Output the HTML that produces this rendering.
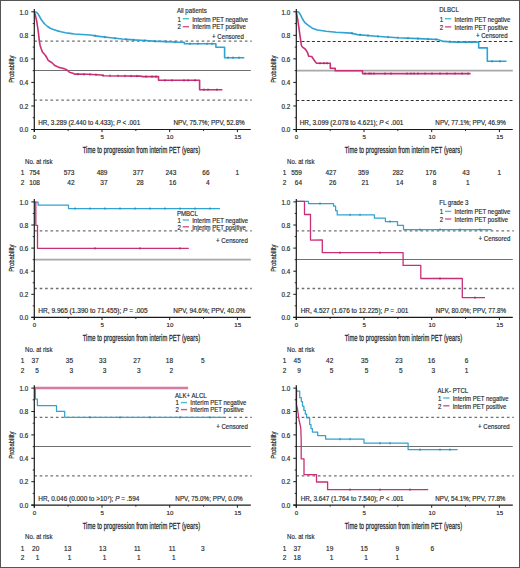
<!DOCTYPE html>
<html><head><meta charset="utf-8"><title>KM curves</title>
<style>
html,body{margin:0;padding:0;background:#fff;}
body{width:520px;height:568px;overflow:hidden;position:relative;font-family:"Liberation Sans", sans-serif;}
.frame{position:absolute;left:0;top:0;width:518px;height:566px;border:1px solid #555;pointer-events:none;}
</style></head><body>
<svg width="520" height="568" viewBox="0 0 520 568" style="position:absolute;left:0;top:0" font-family='"Liberation Sans", sans-serif'>
<rect x="0" y="0" width="520" height="568" fill="#fff"/>
<line x1="34.3" y1="41.22" x2="251.8" y2="41.22" stroke="#6e6e6e" stroke-width="1.3" stroke-dasharray="2.6 2.8"/>
<line x1="34.3" y1="100.08" x2="251.8" y2="100.08" stroke="#6e6e6e" stroke-width="1.3" stroke-dasharray="2.6 2.8"/>
<line x1="34.3" y1="70.5" x2="250.8" y2="70.5" stroke="#707070" stroke-width="1.0" />
<text transform="translate(13.6,69.15) rotate(-90) scale(0.76,1)" font-size="7.7" text-anchor="middle" fill="#2a2a2a" stroke="#2a2a2a" stroke-width="0.24">Probability</text>
<text transform="translate(82.7,153.3) scale(0.7,1)" font-size="8.3" fill="#2a2a2a" stroke="#2a2a2a" stroke-width="0.26" textLength="167.86" lengthAdjust="spacing">Time to progression from interim PET (years)</text>
<text x="38.25" y="125.1" font-size="6.3" text-anchor="start" font-weight="normal" fill="#2a2a2a" stroke="#2a2a2a" stroke-width="0.16" textLength="101.9" lengthAdjust="spacingAndGlyphs">HR, 3.289 (2.440 to 4.433); <tspan font-style="italic">P</tspan> &lt; .001</text>
<text x="173.55" y="125.1" font-size="6.3" text-anchor="start" font-weight="normal" fill="#2a2a2a" stroke="#2a2a2a" stroke-width="0.16" textLength="71" lengthAdjust="spacingAndGlyphs">NPV, 75.7%; PPV, 52.8%</text>
<text x="176.9" y="12.7" font-size="6.7" text-anchor="start" font-weight="normal" fill="#2a2a2a" stroke="#2a2a2a" stroke-width="0.16" textLength="29.84" lengthAdjust="spacingAndGlyphs">All patients</text>
<text x="177.4" y="21.5" font-size="6.7" text-anchor="start" font-weight="normal" fill="#2a2a2a" stroke="#2a2a2a" stroke-width="0.16" textLength="3.39" lengthAdjust="spacingAndGlyphs">1</text>
<text x="177.4" y="29.4" font-size="6.7" text-anchor="start" font-weight="normal" fill="#2a2a2a" stroke="#2a2a2a" stroke-width="0.16" textLength="3.39" lengthAdjust="spacingAndGlyphs">2</text>
<line x1="182.7" y1="18.7" x2="189" y2="18.7" stroke="#52bcd0" stroke-width="1.4" />
<line x1="182.7" y1="26.7" x2="189" y2="26.7" stroke="#d2568a" stroke-width="1.4" />
<text x="192.2" y="21.5" font-size="6.7" text-anchor="start" font-weight="normal" fill="#2a2a2a" stroke="#2a2a2a" stroke-width="0.16" textLength="55.92" lengthAdjust="spacingAndGlyphs">Interim PET negative</text>
<text x="192.2" y="29.4" font-size="6.7" text-anchor="start" font-weight="normal" fill="#2a2a2a" stroke="#2a2a2a" stroke-width="0.16" textLength="53.58" lengthAdjust="spacingAndGlyphs">Interim PET positive</text>
<text x="212.09" y="38.6" font-size="6.7" text-anchor="start" font-weight="normal" fill="#2a2a2a" stroke="#2a2a2a" stroke-width="0.16" textLength="31.71" lengthAdjust="spacingAndGlyphs">+ Censored</text>
<text x="25" y="163.8" font-size="6.9" text-anchor="start" font-weight="normal" fill="#2a2a2a" stroke="#2a2a2a" stroke-width="0.16" textLength="27.46" lengthAdjust="spacingAndGlyphs">No. at risk</text>
<text x="22.5" y="174.9" font-size="6.4" text-anchor="middle" font-weight="normal" fill="#2a2a2a" stroke="#2a2a2a" stroke-width="0.16" >1</text>
<text x="22.5" y="184.6" font-size="6.4" text-anchor="middle" font-weight="normal" fill="#2a2a2a" stroke="#2a2a2a" stroke-width="0.16" >2</text>
<text x="40" y="174.9" font-size="6.5" text-anchor="end" font-weight="normal" fill="#2a2a2a" stroke="#2a2a2a" stroke-width="0.16" >754</text>
<text x="74.5" y="174.9" font-size="6.5" text-anchor="end" font-weight="normal" fill="#2a2a2a" stroke="#2a2a2a" stroke-width="0.16" >573</text>
<text x="107.5" y="174.9" font-size="6.5" text-anchor="end" font-weight="normal" fill="#2a2a2a" stroke="#2a2a2a" stroke-width="0.16" >489</text>
<text x="143.7" y="174.9" font-size="6.5" text-anchor="end" font-weight="normal" fill="#2a2a2a" stroke="#2a2a2a" stroke-width="0.16" >377</text>
<text x="176.3" y="174.9" font-size="6.5" text-anchor="end" font-weight="normal" fill="#2a2a2a" stroke="#2a2a2a" stroke-width="0.16" >243</text>
<text x="209.5" y="174.9" font-size="6.5" text-anchor="end" font-weight="normal" fill="#2a2a2a" stroke="#2a2a2a" stroke-width="0.16" >66</text>
<text x="239.2" y="174.9" font-size="6.5" text-anchor="end" font-weight="normal" fill="#2a2a2a" stroke="#2a2a2a" stroke-width="0.16" >1</text>
<text x="40" y="184.6" font-size="6.5" text-anchor="end" font-weight="normal" fill="#2a2a2a" stroke="#2a2a2a" stroke-width="0.16" >108</text>
<text x="74.5" y="184.6" font-size="6.5" text-anchor="end" font-weight="normal" fill="#2a2a2a" stroke="#2a2a2a" stroke-width="0.16" >42</text>
<text x="107.5" y="184.6" font-size="6.5" text-anchor="end" font-weight="normal" fill="#2a2a2a" stroke="#2a2a2a" stroke-width="0.16" >37</text>
<text x="143.7" y="184.6" font-size="6.5" text-anchor="end" font-weight="normal" fill="#2a2a2a" stroke="#2a2a2a" stroke-width="0.16" >28</text>
<text x="176.3" y="184.6" font-size="6.5" text-anchor="end" font-weight="normal" fill="#2a2a2a" stroke="#2a2a2a" stroke-width="0.16" >16</text>
<text x="209.5" y="184.6" font-size="6.5" text-anchor="end" font-weight="normal" fill="#2a2a2a" stroke="#2a2a2a" stroke-width="0.16" >4</text>
<polyline points="34.4,11.8 36.5,12.2 38.2,14.2 39.8,17 41.4,19.8 43.3,22.4 45.2,24.5 47.6,26.5 50.3,28.2 53.4,29.5 56.6,30.6 61,31.7 65.5,32.7 70,33.4 74.4,34 82,34.5 90,35 99.2,36.4 110.8,37.8 122.4,39 134,39.9 145,40.5 153,41.1 166,41.6 179.6,42.2 184.3,42.3 184.3,43.8 215.9,43.8 215.9,47.3 224.6,47.3 224.6,57.7 244.3,57.7" fill="none" stroke="#2fa3d2" stroke-width="1.6" stroke-linejoin="round" />
<path d="M95 34.56v2.4 M105 35.9v2.4 M115 37.03v2.4 M126 38.08v2.4 M134 38.7v2.4 M145 39.3v2.4 M155 39.98v2.4 M166 40.4v2.4 M175 40.8v2.4 M190 42.6v2.4 M198 42.6v2.4 M207 42.6v2.4 M212 42.6v2.4 M228 56.5v2.4 M233 56.5v2.4 M239 56.5v2.4" stroke="#1f7aa0" stroke-width="0.8" fill="none"/>
<polyline points="34.4,12.5 35.2,14.5 36.3,19.4 37,23 37.6,27 38.3,32 38.9,37.2 39.3,40.9 40.2,45.7 41.3,49 42.4,51.9 44,53.8 45.5,55.5 47,58 48.2,60.3 50,61.5 51.7,62.5 53,63.8 54.4,65.2 56.5,66.3 58.8,67.4 61.5,68 64.1,68.6 66,69.5 67.6,70.5 69.4,72.3 72.9,73.2 74.7,74.1 87.7,74.3 101.6,75 103.9,75.7 140.8,76.1 142,76.6 158.5,76.6 158.5,80.3 199.6,80.3 199.6,89.7 222.4,89.7" fill="none" stroke="#c92f77" stroke-width="1.6" stroke-linejoin="round" />
<path d="M78 72.95v2.4 M84 73.04v2.4 M90 73.22v2.4 M96 73.52v2.4 M103 74.23v2.4 M110 74.57v2.4 M118 74.65v2.4 M125 74.73v2.4 M131 74.79v2.4 M137 74.86v2.4 M146 75.4v2.4 M152 75.4v2.4 M156 75.4v2.4 M165 79.1v2.4 M172 79.1v2.4 M184 79.1v2.4 M188 79.1v2.4 M195 79.1v2.4 M204 88.5v2.4 M208 88.5v2.4 M217 88.5v2.4" stroke="#8a1f50" stroke-width="0.8" fill="none"/>
<line x1="34.3" y1="9" x2="34.3" y2="132.1" stroke="#1a1a1a" stroke-width="1.2" />
<line x1="31.3" y1="129.5" x2="250.8" y2="129.5" stroke="#1a1a1a" stroke-width="1.2" />
<line x1="31.3" y1="129.5" x2="34.3" y2="129.5" stroke="#1a1a1a" stroke-width="1.0" />
<text x="28.3" y="132.2" font-size="6.3" text-anchor="end" font-weight="normal" fill="#2a2a2a" stroke="#2a2a2a" stroke-width="0.16" >0.0</text>
<line x1="31.3" y1="105.96" x2="34.3" y2="105.96" stroke="#1a1a1a" stroke-width="1.0" />
<text x="28.3" y="108.66" font-size="6.3" text-anchor="end" font-weight="normal" fill="#2a2a2a" stroke="#2a2a2a" stroke-width="0.16" >0.2</text>
<line x1="31.3" y1="82.42" x2="34.3" y2="82.42" stroke="#1a1a1a" stroke-width="1.0" />
<text x="28.3" y="85.12" font-size="6.3" text-anchor="end" font-weight="normal" fill="#2a2a2a" stroke="#2a2a2a" stroke-width="0.16" >0.4</text>
<line x1="31.3" y1="58.88" x2="34.3" y2="58.88" stroke="#1a1a1a" stroke-width="1.0" />
<text x="28.3" y="61.58" font-size="6.3" text-anchor="end" font-weight="normal" fill="#2a2a2a" stroke="#2a2a2a" stroke-width="0.16" >0.6</text>
<line x1="31.3" y1="35.34" x2="34.3" y2="35.34" stroke="#1a1a1a" stroke-width="1.0" />
<text x="28.3" y="38.04" font-size="6.3" text-anchor="end" font-weight="normal" fill="#2a2a2a" stroke="#2a2a2a" stroke-width="0.16" >0.8</text>
<line x1="31.3" y1="11.8" x2="34.3" y2="11.8" stroke="#1a1a1a" stroke-width="1.0" />
<text x="28.3" y="14.5" font-size="6.3" text-anchor="end" font-weight="normal" fill="#2a2a2a" stroke="#2a2a2a" stroke-width="0.16" >1.0</text>
<line x1="32.7" y1="117.73" x2="34.3" y2="117.73" stroke="#1a1a1a" stroke-width="0.9" />
<line x1="32.7" y1="94.19" x2="34.3" y2="94.19" stroke="#1a1a1a" stroke-width="0.9" />
<line x1="32.7" y1="70.65" x2="34.3" y2="70.65" stroke="#1a1a1a" stroke-width="0.9" />
<line x1="32.7" y1="47.11" x2="34.3" y2="47.11" stroke="#1a1a1a" stroke-width="0.9" />
<line x1="32.7" y1="23.57" x2="34.3" y2="23.57" stroke="#1a1a1a" stroke-width="0.9" />
<line x1="34.3" y1="129.5" x2="34.3" y2="132.1" stroke="#1a1a1a" stroke-width="1.0" />
<text x="34.6" y="138.9" font-size="6.2" text-anchor="middle" font-weight="normal" fill="#2a2a2a" stroke="#2a2a2a" stroke-width="0.16" >0</text>
<line x1="102" y1="129.5" x2="102" y2="132.1" stroke="#1a1a1a" stroke-width="1.0" />
<text x="102.3" y="138.9" font-size="6.2" text-anchor="middle" font-weight="normal" fill="#2a2a2a" stroke="#2a2a2a" stroke-width="0.16" >5</text>
<line x1="169.7" y1="129.5" x2="169.7" y2="132.1" stroke="#1a1a1a" stroke-width="1.0" />
<text x="170" y="138.9" font-size="6.2" text-anchor="middle" font-weight="normal" fill="#2a2a2a" stroke="#2a2a2a" stroke-width="0.16" >10</text>
<line x1="237.4" y1="129.5" x2="237.4" y2="132.1" stroke="#1a1a1a" stroke-width="1.0" />
<text x="237.7" y="138.9" font-size="6.2" text-anchor="middle" font-weight="normal" fill="#2a2a2a" stroke="#2a2a2a" stroke-width="0.16" >15</text>
<line x1="68.15" y1="129.5" x2="68.15" y2="131.1" stroke="#1a1a1a" stroke-width="0.9" />
<line x1="135.85" y1="129.5" x2="135.85" y2="131.1" stroke="#1a1a1a" stroke-width="0.9" />
<line x1="203.55" y1="129.5" x2="203.55" y2="131.1" stroke="#1a1a1a" stroke-width="0.9" />
<line x1="296.3" y1="41.5" x2="513.8" y2="41.5" stroke="#333" stroke-width="1.0" stroke-dasharray="3 2.2"/>
<line x1="296.3" y1="100.5" x2="513.8" y2="100.5" stroke="#333" stroke-width="1.0" stroke-dasharray="3 2.2"/>
<line x1="296.3" y1="70.65" x2="512.8" y2="70.65" stroke="#a8a8a8" stroke-width="1.6" />
<text transform="translate(275.6,69.15) rotate(-90) scale(0.76,1)" font-size="7.7" text-anchor="middle" fill="#2a2a2a" stroke="#2a2a2a" stroke-width="0.24">Probability</text>
<text transform="translate(344.7,153.3) scale(0.7,1)" font-size="8.3" fill="#2a2a2a" stroke="#2a2a2a" stroke-width="0.26" textLength="167.86" lengthAdjust="spacing">Time to progression from interim PET (years)</text>
<text x="299.65" y="125.1" font-size="6.3" text-anchor="start" font-weight="normal" fill="#2a2a2a" stroke="#2a2a2a" stroke-width="0.16" textLength="103.7" lengthAdjust="spacingAndGlyphs">HR, 3.099 (2.078 to 4.621); <tspan font-style="italic">P</tspan> &lt; .001</text>
<text x="435.35" y="125.1" font-size="6.3" text-anchor="start" font-weight="normal" fill="#2a2a2a" stroke="#2a2a2a" stroke-width="0.16" textLength="70.5" lengthAdjust="spacingAndGlyphs">NPV, 77.1%; PPV, 46.9%</text>
<text x="439.2" y="12" font-size="6.7" text-anchor="start" font-weight="normal" fill="#2a2a2a" stroke="#2a2a2a" stroke-width="0.16" textLength="19.66" lengthAdjust="spacingAndGlyphs">DLBCL</text>
<text x="439.7" y="21.5" font-size="6.7" text-anchor="start" font-weight="normal" fill="#2a2a2a" stroke="#2a2a2a" stroke-width="0.16" textLength="3.39" lengthAdjust="spacingAndGlyphs">1</text>
<text x="439.7" y="29.6" font-size="6.7" text-anchor="start" font-weight="normal" fill="#2a2a2a" stroke="#2a2a2a" stroke-width="0.16" textLength="3.39" lengthAdjust="spacingAndGlyphs">2</text>
<line x1="445" y1="18.7" x2="451.3" y2="18.7" stroke="#52bcd0" stroke-width="1.4" />
<line x1="445" y1="26.9" x2="451.3" y2="26.9" stroke="#d2568a" stroke-width="1.4" />
<text x="454.5" y="21.5" font-size="6.7" text-anchor="start" font-weight="normal" fill="#2a2a2a" stroke="#2a2a2a" stroke-width="0.16" textLength="55.92" lengthAdjust="spacingAndGlyphs">Interim PET negative</text>
<text x="454.5" y="29.6" font-size="6.7" text-anchor="start" font-weight="normal" fill="#2a2a2a" stroke="#2a2a2a" stroke-width="0.16" textLength="53.58" lengthAdjust="spacingAndGlyphs">Interim PET positive</text>
<text x="475.89" y="38" font-size="6.7" text-anchor="start" font-weight="normal" fill="#2a2a2a" stroke="#2a2a2a" stroke-width="0.16" textLength="31.71" lengthAdjust="spacingAndGlyphs">+ Censored</text>
<text x="287" y="163.8" font-size="6.9" text-anchor="start" font-weight="normal" fill="#2a2a2a" stroke="#2a2a2a" stroke-width="0.16" textLength="27.46" lengthAdjust="spacingAndGlyphs">No. at risk</text>
<text x="284.5" y="174.9" font-size="6.4" text-anchor="middle" font-weight="normal" fill="#2a2a2a" stroke="#2a2a2a" stroke-width="0.16" >1</text>
<text x="284.5" y="184.6" font-size="6.4" text-anchor="middle" font-weight="normal" fill="#2a2a2a" stroke="#2a2a2a" stroke-width="0.16" >2</text>
<text x="302" y="174.9" font-size="6.5" text-anchor="end" font-weight="normal" fill="#2a2a2a" stroke="#2a2a2a" stroke-width="0.16" >559</text>
<text x="336.3" y="174.9" font-size="6.5" text-anchor="end" font-weight="normal" fill="#2a2a2a" stroke="#2a2a2a" stroke-width="0.16" >427</text>
<text x="368.8" y="174.9" font-size="6.5" text-anchor="end" font-weight="normal" fill="#2a2a2a" stroke="#2a2a2a" stroke-width="0.16" >359</text>
<text x="403.3" y="174.9" font-size="6.5" text-anchor="end" font-weight="normal" fill="#2a2a2a" stroke="#2a2a2a" stroke-width="0.16" >282</text>
<text x="436.3" y="174.9" font-size="6.5" text-anchor="end" font-weight="normal" fill="#2a2a2a" stroke="#2a2a2a" stroke-width="0.16" >176</text>
<text x="469.5" y="174.9" font-size="6.5" text-anchor="end" font-weight="normal" fill="#2a2a2a" stroke="#2a2a2a" stroke-width="0.16" >43</text>
<text x="501.2" y="174.9" font-size="6.5" text-anchor="end" font-weight="normal" fill="#2a2a2a" stroke="#2a2a2a" stroke-width="0.16" >1</text>
<text x="302" y="184.6" font-size="6.5" text-anchor="end" font-weight="normal" fill="#2a2a2a" stroke="#2a2a2a" stroke-width="0.16" >64</text>
<text x="336.3" y="184.6" font-size="6.5" text-anchor="end" font-weight="normal" fill="#2a2a2a" stroke="#2a2a2a" stroke-width="0.16" >26</text>
<text x="368.8" y="184.6" font-size="6.5" text-anchor="end" font-weight="normal" fill="#2a2a2a" stroke="#2a2a2a" stroke-width="0.16" >21</text>
<text x="403.3" y="184.6" font-size="6.5" text-anchor="end" font-weight="normal" fill="#2a2a2a" stroke="#2a2a2a" stroke-width="0.16" >14</text>
<text x="436.3" y="184.6" font-size="6.5" text-anchor="end" font-weight="normal" fill="#2a2a2a" stroke="#2a2a2a" stroke-width="0.16" >8</text>
<text x="469.5" y="184.6" font-size="6.5" text-anchor="end" font-weight="normal" fill="#2a2a2a" stroke="#2a2a2a" stroke-width="0.16" >1</text>
<polyline points="296.4,11.6 298.5,12.1 299.8,13.6 300.9,15.6 302.1,18.1 303.4,20.5 305.2,22.9 308.3,25.4 312.3,28.2 317.5,30 326,31.3 336,32.2 351.4,33.1 357.5,34.6 376,36.2 397.5,37.7 419,38.6 437.5,39.5 443.7,41.4 456,42.1 478.7,42.1 478.7,47.9 487.3,47.9 487.3,61.3 506.5,61.3" fill="none" stroke="#2fa3d2" stroke-width="1.6" stroke-linejoin="round" />
<path d="M352 32.05v2.4 M360 33.62v2.4 M368 34.31v2.4 M378 35.14v2.4 M388 35.84v2.4 M398 36.52v2.4 M408 36.94v2.4 M418 37.36v2.4 M428 37.84v2.4 M436 38.23v2.4 M450 40.56v2.4 M458 40.9v2.4 M466 40.9v2.4 M472 40.9v2.4 M492 60.1v2.4 M500 60.1v2.4" stroke="#1f7aa0" stroke-width="0.8" fill="none"/>
<polyline points="296.4,12.8 297,15.5 297.7,19.4 298.3,23.5 299,28.3 299.6,32.8 300.2,37.2 300.8,41.2 301.3,45 302,46.5 302.8,47.3 304,48.2 305.1,49 306.2,50.5 307.3,52.1 308,54 308.6,56.1 310,56.3 311.7,56.5 313,58.5 314.4,60.5 315.5,62 316.6,63.2 330.3,63.2 330.3,68.2 335.2,68.2 335.2,70.7 362.5,70.7 362.5,73.6 470.6,73.6" fill="none" stroke="#c92f77" stroke-width="1.6" stroke-linejoin="round" />
<path d="M320 62v2.4 M324 62v2.4 M327 62v2.4 M365 72.4v2.4 M369 72.4v2.4 M371 72.4v2.4 M374 72.4v2.4 M385 72.4v2.4 M391 72.4v2.4 M407 72.4v2.4 M411 72.4v2.4 M414 72.4v2.4 M418 72.4v2.4 M425 72.4v2.4 M432 72.4v2.4 M440 72.4v2.4 M447 72.4v2.4 M455 72.4v2.4 M462 72.4v2.4 M468 72.4v2.4" stroke="#8a1f50" stroke-width="0.8" fill="none"/>
<line x1="296.3" y1="9" x2="296.3" y2="132.1" stroke="#1a1a1a" stroke-width="1.2" />
<line x1="293.3" y1="129.5" x2="512.8" y2="129.5" stroke="#1a1a1a" stroke-width="1.2" />
<line x1="293.3" y1="129.5" x2="296.3" y2="129.5" stroke="#1a1a1a" stroke-width="1.0" />
<text x="290.3" y="132.2" font-size="6.3" text-anchor="end" font-weight="normal" fill="#2a2a2a" stroke="#2a2a2a" stroke-width="0.16" >0.0</text>
<line x1="293.3" y1="105.96" x2="296.3" y2="105.96" stroke="#1a1a1a" stroke-width="1.0" />
<text x="290.3" y="108.66" font-size="6.3" text-anchor="end" font-weight="normal" fill="#2a2a2a" stroke="#2a2a2a" stroke-width="0.16" >0.2</text>
<line x1="293.3" y1="82.42" x2="296.3" y2="82.42" stroke="#1a1a1a" stroke-width="1.0" />
<text x="290.3" y="85.12" font-size="6.3" text-anchor="end" font-weight="normal" fill="#2a2a2a" stroke="#2a2a2a" stroke-width="0.16" >0.4</text>
<line x1="293.3" y1="58.88" x2="296.3" y2="58.88" stroke="#1a1a1a" stroke-width="1.0" />
<text x="290.3" y="61.58" font-size="6.3" text-anchor="end" font-weight="normal" fill="#2a2a2a" stroke="#2a2a2a" stroke-width="0.16" >0.6</text>
<line x1="293.3" y1="35.34" x2="296.3" y2="35.34" stroke="#1a1a1a" stroke-width="1.0" />
<text x="290.3" y="38.04" font-size="6.3" text-anchor="end" font-weight="normal" fill="#2a2a2a" stroke="#2a2a2a" stroke-width="0.16" >0.8</text>
<line x1="293.3" y1="11.8" x2="296.3" y2="11.8" stroke="#1a1a1a" stroke-width="1.0" />
<text x="290.3" y="14.5" font-size="6.3" text-anchor="end" font-weight="normal" fill="#2a2a2a" stroke="#2a2a2a" stroke-width="0.16" >1.0</text>
<line x1="294.7" y1="117.73" x2="296.3" y2="117.73" stroke="#1a1a1a" stroke-width="0.9" />
<line x1="294.7" y1="94.19" x2="296.3" y2="94.19" stroke="#1a1a1a" stroke-width="0.9" />
<line x1="294.7" y1="70.65" x2="296.3" y2="70.65" stroke="#1a1a1a" stroke-width="0.9" />
<line x1="294.7" y1="47.11" x2="296.3" y2="47.11" stroke="#1a1a1a" stroke-width="0.9" />
<line x1="294.7" y1="23.57" x2="296.3" y2="23.57" stroke="#1a1a1a" stroke-width="0.9" />
<line x1="296.3" y1="129.5" x2="296.3" y2="132.1" stroke="#1a1a1a" stroke-width="1.0" />
<text x="296.6" y="138.9" font-size="6.2" text-anchor="middle" font-weight="normal" fill="#2a2a2a" stroke="#2a2a2a" stroke-width="0.16" >0</text>
<line x1="364" y1="129.5" x2="364" y2="132.1" stroke="#1a1a1a" stroke-width="1.0" />
<text x="364.3" y="138.9" font-size="6.2" text-anchor="middle" font-weight="normal" fill="#2a2a2a" stroke="#2a2a2a" stroke-width="0.16" >5</text>
<line x1="431.7" y1="129.5" x2="431.7" y2="132.1" stroke="#1a1a1a" stroke-width="1.0" />
<text x="432" y="138.9" font-size="6.2" text-anchor="middle" font-weight="normal" fill="#2a2a2a" stroke="#2a2a2a" stroke-width="0.16" >10</text>
<line x1="499.4" y1="129.5" x2="499.4" y2="132.1" stroke="#1a1a1a" stroke-width="1.0" />
<text x="499.7" y="138.9" font-size="6.2" text-anchor="middle" font-weight="normal" fill="#2a2a2a" stroke="#2a2a2a" stroke-width="0.16" >15</text>
<line x1="330.15" y1="129.5" x2="330.15" y2="131.1" stroke="#1a1a1a" stroke-width="0.9" />
<line x1="397.85" y1="129.5" x2="397.85" y2="131.1" stroke="#1a1a1a" stroke-width="0.9" />
<line x1="465.55" y1="129.5" x2="465.55" y2="131.1" stroke="#1a1a1a" stroke-width="0.9" />
<line x1="34.3" y1="230.78" x2="251.8" y2="230.78" stroke="#6e6e6e" stroke-width="1.3" stroke-dasharray="2.6 2.8"/>
<line x1="34.3" y1="288.52" x2="251.8" y2="288.52" stroke="#6e6e6e" stroke-width="1.3" stroke-dasharray="2.6 2.8"/>
<line x1="34.3" y1="259.65" x2="250.8" y2="259.65" stroke="#a8a8a8" stroke-width="1.6" />
<text transform="translate(13.6,258.15) rotate(-90) scale(0.76,1)" font-size="7.7" text-anchor="middle" fill="#2a2a2a" stroke="#2a2a2a" stroke-width="0.24">Probability</text>
<text transform="translate(82.7,341.2) scale(0.7,1)" font-size="8.3" fill="#2a2a2a" stroke="#2a2a2a" stroke-width="0.26" textLength="167.86" lengthAdjust="spacing">Time to progression from interim PET (years)</text>
<text x="38.35" y="313" font-size="6.3" text-anchor="start" font-weight="normal" fill="#2a2a2a" stroke="#2a2a2a" stroke-width="0.16" textLength="109.3" lengthAdjust="spacingAndGlyphs">HR, 9.965 (1.390 to 71.455); <tspan font-style="italic">P</tspan> = .005</text>
<text x="173.25" y="313" font-size="6.3" text-anchor="start" font-weight="normal" fill="#2a2a2a" stroke="#2a2a2a" stroke-width="0.16" textLength="72" lengthAdjust="spacingAndGlyphs">NPV, 94.6%; PPV, 40.0%</text>
<text x="176.9" y="215.9" font-size="6.7" text-anchor="start" font-weight="normal" fill="#2a2a2a" stroke="#2a2a2a" stroke-width="0.16" textLength="21.02" lengthAdjust="spacingAndGlyphs">PMBCL</text>
<text x="177.4" y="222.8" font-size="6.7" text-anchor="start" font-weight="normal" fill="#2a2a2a" stroke="#2a2a2a" stroke-width="0.16" textLength="3.39" lengthAdjust="spacingAndGlyphs">1</text>
<text x="177.4" y="229.5" font-size="6.7" text-anchor="start" font-weight="normal" fill="#2a2a2a" stroke="#2a2a2a" stroke-width="0.16" textLength="3.39" lengthAdjust="spacingAndGlyphs">2</text>
<line x1="182.7" y1="220" x2="189" y2="220" stroke="#52bcd0" stroke-width="1.4" />
<line x1="182.7" y1="226.8" x2="189" y2="226.8" stroke="#d2568a" stroke-width="1.4" />
<text x="192.2" y="222.8" font-size="6.7" text-anchor="start" font-weight="normal" fill="#2a2a2a" stroke="#2a2a2a" stroke-width="0.16" textLength="55.92" lengthAdjust="spacingAndGlyphs">Interim PET negative</text>
<text x="192.2" y="229.5" font-size="6.7" text-anchor="start" font-weight="normal" fill="#2a2a2a" stroke="#2a2a2a" stroke-width="0.16" textLength="53.58" lengthAdjust="spacingAndGlyphs">Interim PET positive</text>
<text x="216.09" y="242.7" font-size="6.7" text-anchor="start" font-weight="normal" fill="#2a2a2a" stroke="#2a2a2a" stroke-width="0.16" textLength="31.71" lengthAdjust="spacingAndGlyphs">+ Censored</text>
<text x="25" y="351.7" font-size="6.9" text-anchor="start" font-weight="normal" fill="#2a2a2a" stroke="#2a2a2a" stroke-width="0.16" textLength="27.46" lengthAdjust="spacingAndGlyphs">No. at risk</text>
<text x="22.5" y="362.8" font-size="6.4" text-anchor="middle" font-weight="normal" fill="#2a2a2a" stroke="#2a2a2a" stroke-width="0.16" >1</text>
<text x="22.5" y="372.5" font-size="6.4" text-anchor="middle" font-weight="normal" fill="#2a2a2a" stroke="#2a2a2a" stroke-width="0.16" >2</text>
<text x="38.8" y="362.8" font-size="6.5" text-anchor="end" font-weight="normal" fill="#2a2a2a" stroke="#2a2a2a" stroke-width="0.16" >37</text>
<text x="73" y="362.8" font-size="6.5" text-anchor="end" font-weight="normal" fill="#2a2a2a" stroke="#2a2a2a" stroke-width="0.16" >35</text>
<text x="106.3" y="362.8" font-size="6.5" text-anchor="end" font-weight="normal" fill="#2a2a2a" stroke="#2a2a2a" stroke-width="0.16" >33</text>
<text x="140.5" y="362.8" font-size="6.5" text-anchor="end" font-weight="normal" fill="#2a2a2a" stroke="#2a2a2a" stroke-width="0.16" >27</text>
<text x="173" y="362.8" font-size="6.5" text-anchor="end" font-weight="normal" fill="#2a2a2a" stroke="#2a2a2a" stroke-width="0.16" >18</text>
<text x="204.5" y="362.8" font-size="6.5" text-anchor="end" font-weight="normal" fill="#2a2a2a" stroke="#2a2a2a" stroke-width="0.16" >5</text>
<text x="38.8" y="372.5" font-size="6.5" text-anchor="end" font-weight="normal" fill="#2a2a2a" stroke="#2a2a2a" stroke-width="0.16" >5</text>
<text x="73" y="372.5" font-size="6.5" text-anchor="end" font-weight="normal" fill="#2a2a2a" stroke="#2a2a2a" stroke-width="0.16" >3</text>
<text x="106.3" y="372.5" font-size="6.5" text-anchor="end" font-weight="normal" fill="#2a2a2a" stroke="#2a2a2a" stroke-width="0.16" >3</text>
<text x="140.5" y="372.5" font-size="6.5" text-anchor="end" font-weight="normal" fill="#2a2a2a" stroke="#2a2a2a" stroke-width="0.16" >3</text>
<text x="173" y="372.5" font-size="6.5" text-anchor="end" font-weight="normal" fill="#2a2a2a" stroke="#2a2a2a" stroke-width="0.16" >2</text>
<polyline points="34.4,202.1 38.1,202.1 38.1,205 68.5,205 68.5,208.5 220,208.5" fill="none" stroke="#2fa3d2" stroke-width="1.25" stroke-linejoin="round" />
<path d="M75 207.3v2.4 M90 207.3v2.4 M105 207.3v2.4 M120 207.3v2.4 M135 207.3v2.4 M150 207.3v2.4 M165 207.3v2.4 M180 207.3v2.4 M195 207.3v2.4 M210 207.3v2.4" stroke="#1f7aa0" stroke-width="0.8" fill="none"/>
<polyline points="34.6,202.1 35.8,202.1 35.8,225.3 37.5,225.3 37.5,248.3 188.8,248.3" fill="none" stroke="#c92f77" stroke-width="1.3" stroke-linejoin="round" />
<path d="M95 247.1v2.4 M140 247.1v2.4 M180 247.1v2.4" stroke="#8a1f50" stroke-width="0.8" fill="none"/>
<line x1="34.3" y1="199.1" x2="34.3" y2="320" stroke="#1a1a1a" stroke-width="1.2" />
<line x1="31.3" y1="317.4" x2="250.8" y2="317.4" stroke="#1a1a1a" stroke-width="1.2" />
<line x1="31.3" y1="317.4" x2="34.3" y2="317.4" stroke="#1a1a1a" stroke-width="1.0" />
<text x="28.3" y="320.1" font-size="6.3" text-anchor="end" font-weight="normal" fill="#2a2a2a" stroke="#2a2a2a" stroke-width="0.16" >0.0</text>
<line x1="31.3" y1="294.3" x2="34.3" y2="294.3" stroke="#1a1a1a" stroke-width="1.0" />
<text x="28.3" y="297" font-size="6.3" text-anchor="end" font-weight="normal" fill="#2a2a2a" stroke="#2a2a2a" stroke-width="0.16" >0.2</text>
<line x1="31.3" y1="271.2" x2="34.3" y2="271.2" stroke="#1a1a1a" stroke-width="1.0" />
<text x="28.3" y="273.9" font-size="6.3" text-anchor="end" font-weight="normal" fill="#2a2a2a" stroke="#2a2a2a" stroke-width="0.16" >0.4</text>
<line x1="31.3" y1="248.1" x2="34.3" y2="248.1" stroke="#1a1a1a" stroke-width="1.0" />
<text x="28.3" y="250.8" font-size="6.3" text-anchor="end" font-weight="normal" fill="#2a2a2a" stroke="#2a2a2a" stroke-width="0.16" >0.6</text>
<line x1="31.3" y1="225" x2="34.3" y2="225" stroke="#1a1a1a" stroke-width="1.0" />
<text x="28.3" y="227.7" font-size="6.3" text-anchor="end" font-weight="normal" fill="#2a2a2a" stroke="#2a2a2a" stroke-width="0.16" >0.8</text>
<line x1="31.3" y1="201.9" x2="34.3" y2="201.9" stroke="#1a1a1a" stroke-width="1.0" />
<text x="28.3" y="204.6" font-size="6.3" text-anchor="end" font-weight="normal" fill="#2a2a2a" stroke="#2a2a2a" stroke-width="0.16" >1.0</text>
<line x1="32.7" y1="305.85" x2="34.3" y2="305.85" stroke="#1a1a1a" stroke-width="0.9" />
<line x1="32.7" y1="282.75" x2="34.3" y2="282.75" stroke="#1a1a1a" stroke-width="0.9" />
<line x1="32.7" y1="259.65" x2="34.3" y2="259.65" stroke="#1a1a1a" stroke-width="0.9" />
<line x1="32.7" y1="236.55" x2="34.3" y2="236.55" stroke="#1a1a1a" stroke-width="0.9" />
<line x1="32.7" y1="213.45" x2="34.3" y2="213.45" stroke="#1a1a1a" stroke-width="0.9" />
<line x1="34.3" y1="317.4" x2="34.3" y2="320" stroke="#1a1a1a" stroke-width="1.0" />
<text x="34.6" y="326.8" font-size="6.2" text-anchor="middle" font-weight="normal" fill="#2a2a2a" stroke="#2a2a2a" stroke-width="0.16" >0</text>
<line x1="102" y1="317.4" x2="102" y2="320" stroke="#1a1a1a" stroke-width="1.0" />
<text x="102.3" y="326.8" font-size="6.2" text-anchor="middle" font-weight="normal" fill="#2a2a2a" stroke="#2a2a2a" stroke-width="0.16" >5</text>
<line x1="169.7" y1="317.4" x2="169.7" y2="320" stroke="#1a1a1a" stroke-width="1.0" />
<text x="170" y="326.8" font-size="6.2" text-anchor="middle" font-weight="normal" fill="#2a2a2a" stroke="#2a2a2a" stroke-width="0.16" >10</text>
<line x1="237.4" y1="317.4" x2="237.4" y2="320" stroke="#1a1a1a" stroke-width="1.0" />
<text x="237.7" y="326.8" font-size="6.2" text-anchor="middle" font-weight="normal" fill="#2a2a2a" stroke="#2a2a2a" stroke-width="0.16" >15</text>
<line x1="68.15" y1="317.4" x2="68.15" y2="319" stroke="#1a1a1a" stroke-width="0.9" />
<line x1="135.85" y1="317.4" x2="135.85" y2="319" stroke="#1a1a1a" stroke-width="0.9" />
<line x1="203.55" y1="317.4" x2="203.55" y2="319" stroke="#1a1a1a" stroke-width="0.9" />
<line x1="296.3" y1="230.78" x2="513.8" y2="230.78" stroke="#6e6e6e" stroke-width="1.3" stroke-dasharray="2.6 2.8"/>
<line x1="296.3" y1="288.52" x2="513.8" y2="288.52" stroke="#6e6e6e" stroke-width="1.3" stroke-dasharray="2.6 2.8"/>
<line x1="296.3" y1="259.5" x2="512.8" y2="259.5" stroke="#707070" stroke-width="1.0" />
<text transform="translate(275.6,258.15) rotate(-90) scale(0.76,1)" font-size="7.7" text-anchor="middle" fill="#2a2a2a" stroke="#2a2a2a" stroke-width="0.24">Probability</text>
<text transform="translate(344.7,341.2) scale(0.7,1)" font-size="8.3" fill="#2a2a2a" stroke="#2a2a2a" stroke-width="0.26" textLength="167.86" lengthAdjust="spacing">Time to progression from interim PET (years)</text>
<text x="300.65" y="313" font-size="6.3" text-anchor="start" font-weight="normal" fill="#2a2a2a" stroke="#2a2a2a" stroke-width="0.16" textLength="107.7" lengthAdjust="spacingAndGlyphs">HR, 4.527 (1.676 to 12.225); <tspan font-style="italic">P</tspan> = .001</text>
<text x="435.75" y="313" font-size="6.3" text-anchor="start" font-weight="normal" fill="#2a2a2a" stroke="#2a2a2a" stroke-width="0.16" textLength="70.3" lengthAdjust="spacingAndGlyphs">NPV, 80.0%; PPV, 77.8%</text>
<text x="439.2" y="205" font-size="6.7" text-anchor="start" font-weight="normal" fill="#2a2a2a" stroke="#2a2a2a" stroke-width="0.16" textLength="29.28" lengthAdjust="spacingAndGlyphs">FL grade 3</text>
<text x="439.7" y="214.2" font-size="6.7" text-anchor="start" font-weight="normal" fill="#2a2a2a" stroke="#2a2a2a" stroke-width="0.16" textLength="3.39" lengthAdjust="spacingAndGlyphs">1</text>
<text x="439.7" y="221.7" font-size="6.7" text-anchor="start" font-weight="normal" fill="#2a2a2a" stroke="#2a2a2a" stroke-width="0.16" textLength="3.39" lengthAdjust="spacingAndGlyphs">2</text>
<line x1="445" y1="211.4" x2="451.3" y2="211.4" stroke="#52bcd0" stroke-width="1.4" />
<line x1="445" y1="219" x2="451.3" y2="219" stroke="#d2568a" stroke-width="1.4" />
<text x="454.5" y="214.2" font-size="6.7" text-anchor="start" font-weight="normal" fill="#2a2a2a" stroke="#2a2a2a" stroke-width="0.16" textLength="55.92" lengthAdjust="spacingAndGlyphs">Interim PET negative</text>
<text x="454.5" y="221.7" font-size="6.7" text-anchor="start" font-weight="normal" fill="#2a2a2a" stroke="#2a2a2a" stroke-width="0.16" textLength="53.58" lengthAdjust="spacingAndGlyphs">Interim PET positive</text>
<text x="478.59" y="241.3" font-size="6.7" text-anchor="start" font-weight="normal" fill="#2a2a2a" stroke="#2a2a2a" stroke-width="0.16" textLength="31.71" lengthAdjust="spacingAndGlyphs">+ Censored</text>
<text x="287" y="351.7" font-size="6.9" text-anchor="start" font-weight="normal" fill="#2a2a2a" stroke="#2a2a2a" stroke-width="0.16" textLength="27.46" lengthAdjust="spacingAndGlyphs">No. at risk</text>
<text x="284.5" y="362.8" font-size="6.4" text-anchor="middle" font-weight="normal" fill="#2a2a2a" stroke="#2a2a2a" stroke-width="0.16" >1</text>
<text x="284.5" y="372.5" font-size="6.4" text-anchor="middle" font-weight="normal" fill="#2a2a2a" stroke="#2a2a2a" stroke-width="0.16" >2</text>
<text x="300.8" y="362.8" font-size="6.5" text-anchor="end" font-weight="normal" fill="#2a2a2a" stroke="#2a2a2a" stroke-width="0.16" >45</text>
<text x="333.3" y="362.8" font-size="6.5" text-anchor="end" font-weight="normal" fill="#2a2a2a" stroke="#2a2a2a" stroke-width="0.16" >42</text>
<text x="368.3" y="362.8" font-size="6.5" text-anchor="end" font-weight="normal" fill="#2a2a2a" stroke="#2a2a2a" stroke-width="0.16" >35</text>
<text x="402.5" y="362.8" font-size="6.5" text-anchor="end" font-weight="normal" fill="#2a2a2a" stroke="#2a2a2a" stroke-width="0.16" >23</text>
<text x="435" y="362.8" font-size="6.5" text-anchor="end" font-weight="normal" fill="#2a2a2a" stroke="#2a2a2a" stroke-width="0.16" >16</text>
<text x="468.3" y="362.8" font-size="6.5" text-anchor="end" font-weight="normal" fill="#2a2a2a" stroke="#2a2a2a" stroke-width="0.16" >6</text>
<text x="300.8" y="372.5" font-size="6.5" text-anchor="end" font-weight="normal" fill="#2a2a2a" stroke="#2a2a2a" stroke-width="0.16" >9</text>
<text x="333.3" y="372.5" font-size="6.5" text-anchor="end" font-weight="normal" fill="#2a2a2a" stroke="#2a2a2a" stroke-width="0.16" >5</text>
<text x="368.3" y="372.5" font-size="6.5" text-anchor="end" font-weight="normal" fill="#2a2a2a" stroke="#2a2a2a" stroke-width="0.16" >5</text>
<text x="402.5" y="372.5" font-size="6.5" text-anchor="end" font-weight="normal" fill="#2a2a2a" stroke="#2a2a2a" stroke-width="0.16" >5</text>
<text x="435" y="372.5" font-size="6.5" text-anchor="end" font-weight="normal" fill="#2a2a2a" stroke="#2a2a2a" stroke-width="0.16" >3</text>
<text x="468.3" y="372.5" font-size="6.5" text-anchor="end" font-weight="normal" fill="#2a2a2a" stroke="#2a2a2a" stroke-width="0.16" >1</text>
<polyline points="296.5,201.4 308.5,201.4 308.5,203.6 333.6,203.6 333.6,206.2 335.6,206.2 335.6,210.5 337.2,210.5 337.2,214.9 374.4,214.9 374.4,218 385.4,218 385.4,221.5 397.5,221.5 397.5,225.4 403.5,225.4 403.5,229.7 491.8,229.7" fill="none" stroke="#2fa3d2" stroke-width="1.25" stroke-linejoin="round" />
<path d="M320 202.4v2.4 M350 213.7v2.4 M360 213.7v2.4 M390 220.3v2.4 M420 228.5v2.4 M440 228.5v2.4 M460 228.5v2.4 M480 228.5v2.4" stroke="#1f7aa0" stroke-width="0.8" fill="none"/>
<polyline points="296.5,201.4 304.5,201.4 304.5,214.5 310.5,214.5 310.5,240.1 322.3,240 322.3,252.7 403.1,252.7 403.1,265.4 420.8,265.4 420.8,278.5 462.3,278.5 462.3,297.7 485,297.7" fill="none" stroke="#c92f77" stroke-width="1.3" stroke-linejoin="round" />
<path d="M340 251.5v2.4 M380 251.5v2.4 M440 277.3v2.4 M475 296.5v2.4" stroke="#8a1f50" stroke-width="0.8" fill="none"/>
<line x1="296.3" y1="199.1" x2="296.3" y2="320" stroke="#1a1a1a" stroke-width="1.2" />
<line x1="293.3" y1="317.4" x2="512.8" y2="317.4" stroke="#1a1a1a" stroke-width="1.2" />
<line x1="293.3" y1="317.4" x2="296.3" y2="317.4" stroke="#1a1a1a" stroke-width="1.0" />
<text x="290.3" y="320.1" font-size="6.3" text-anchor="end" font-weight="normal" fill="#2a2a2a" stroke="#2a2a2a" stroke-width="0.16" >0.0</text>
<line x1="293.3" y1="294.3" x2="296.3" y2="294.3" stroke="#1a1a1a" stroke-width="1.0" />
<text x="290.3" y="297" font-size="6.3" text-anchor="end" font-weight="normal" fill="#2a2a2a" stroke="#2a2a2a" stroke-width="0.16" >0.2</text>
<line x1="293.3" y1="271.2" x2="296.3" y2="271.2" stroke="#1a1a1a" stroke-width="1.0" />
<text x="290.3" y="273.9" font-size="6.3" text-anchor="end" font-weight="normal" fill="#2a2a2a" stroke="#2a2a2a" stroke-width="0.16" >0.4</text>
<line x1="293.3" y1="248.1" x2="296.3" y2="248.1" stroke="#1a1a1a" stroke-width="1.0" />
<text x="290.3" y="250.8" font-size="6.3" text-anchor="end" font-weight="normal" fill="#2a2a2a" stroke="#2a2a2a" stroke-width="0.16" >0.6</text>
<line x1="293.3" y1="225" x2="296.3" y2="225" stroke="#1a1a1a" stroke-width="1.0" />
<text x="290.3" y="227.7" font-size="6.3" text-anchor="end" font-weight="normal" fill="#2a2a2a" stroke="#2a2a2a" stroke-width="0.16" >0.8</text>
<line x1="293.3" y1="201.9" x2="296.3" y2="201.9" stroke="#1a1a1a" stroke-width="1.0" />
<text x="290.3" y="204.6" font-size="6.3" text-anchor="end" font-weight="normal" fill="#2a2a2a" stroke="#2a2a2a" stroke-width="0.16" >1.0</text>
<line x1="294.7" y1="305.85" x2="296.3" y2="305.85" stroke="#1a1a1a" stroke-width="0.9" />
<line x1="294.7" y1="282.75" x2="296.3" y2="282.75" stroke="#1a1a1a" stroke-width="0.9" />
<line x1="294.7" y1="259.65" x2="296.3" y2="259.65" stroke="#1a1a1a" stroke-width="0.9" />
<line x1="294.7" y1="236.55" x2="296.3" y2="236.55" stroke="#1a1a1a" stroke-width="0.9" />
<line x1="294.7" y1="213.45" x2="296.3" y2="213.45" stroke="#1a1a1a" stroke-width="0.9" />
<line x1="296.3" y1="317.4" x2="296.3" y2="320" stroke="#1a1a1a" stroke-width="1.0" />
<text x="296.6" y="326.8" font-size="6.2" text-anchor="middle" font-weight="normal" fill="#2a2a2a" stroke="#2a2a2a" stroke-width="0.16" >0</text>
<line x1="364" y1="317.4" x2="364" y2="320" stroke="#1a1a1a" stroke-width="1.0" />
<text x="364.3" y="326.8" font-size="6.2" text-anchor="middle" font-weight="normal" fill="#2a2a2a" stroke="#2a2a2a" stroke-width="0.16" >5</text>
<line x1="431.7" y1="317.4" x2="431.7" y2="320" stroke="#1a1a1a" stroke-width="1.0" />
<text x="432" y="326.8" font-size="6.2" text-anchor="middle" font-weight="normal" fill="#2a2a2a" stroke="#2a2a2a" stroke-width="0.16" >10</text>
<line x1="499.4" y1="317.4" x2="499.4" y2="320" stroke="#1a1a1a" stroke-width="1.0" />
<text x="499.7" y="326.8" font-size="6.2" text-anchor="middle" font-weight="normal" fill="#2a2a2a" stroke="#2a2a2a" stroke-width="0.16" >15</text>
<line x1="330.15" y1="317.4" x2="330.15" y2="319" stroke="#1a1a1a" stroke-width="0.9" />
<line x1="397.85" y1="317.4" x2="397.85" y2="319" stroke="#1a1a1a" stroke-width="0.9" />
<line x1="465.55" y1="317.4" x2="465.55" y2="319" stroke="#1a1a1a" stroke-width="0.9" />
<line x1="34.3" y1="417.35" x2="251.8" y2="417.35" stroke="#6e6e6e" stroke-width="1.3" stroke-dasharray="2.6 2.8"/>
<line x1="34.3" y1="475.85" x2="251.8" y2="475.85" stroke="#6e6e6e" stroke-width="1.3" stroke-dasharray="2.6 2.8"/>
<line x1="34.3" y1="446.5" x2="250.8" y2="446.5" stroke="#707070" stroke-width="1.0" />
<text transform="translate(13.6,445.1) rotate(-90) scale(0.76,1)" font-size="7.7" text-anchor="middle" fill="#2a2a2a" stroke="#2a2a2a" stroke-width="0.24">Probability</text>
<text transform="translate(82.7,528.9) scale(0.7,1)" font-size="8.3" fill="#2a2a2a" stroke="#2a2a2a" stroke-width="0.26" textLength="167.86" lengthAdjust="spacing">Time to progression from interim PET (years)</text>
<text x="38.25" y="500.7" font-size="6.3" text-anchor="start" font-weight="normal" fill="#2a2a2a" stroke="#2a2a2a" stroke-width="0.16" textLength="101.1" lengthAdjust="spacingAndGlyphs">HR, 0.046 (0.000 to &gt;10<tspan font-size="4" dy="-2.2">7</tspan><tspan dy="2.2">); </tspan><tspan font-style="italic">P</tspan> = .594</text>
<text x="175.35" y="500.7" font-size="6.3" text-anchor="start" font-weight="normal" fill="#2a2a2a" stroke="#2a2a2a" stroke-width="0.16" textLength="67.3" lengthAdjust="spacingAndGlyphs">NPV, 75.0%; PPV, 0.0%</text>
<text x="175" y="397.8" font-size="6.7" text-anchor="start" font-weight="normal" fill="#2a2a2a" stroke="#2a2a2a" stroke-width="0.16" textLength="31.71" lengthAdjust="spacingAndGlyphs">ALK+ ALCL</text>
<text x="175.5" y="405.4" font-size="6.7" text-anchor="start" font-weight="normal" fill="#2a2a2a" stroke="#2a2a2a" stroke-width="0.16" textLength="3.39" lengthAdjust="spacingAndGlyphs">1</text>
<text x="175.5" y="412.3" font-size="6.7" text-anchor="start" font-weight="normal" fill="#2a2a2a" stroke="#2a2a2a" stroke-width="0.16" textLength="3.39" lengthAdjust="spacingAndGlyphs">2</text>
<line x1="180.8" y1="402.6" x2="187.1" y2="402.6" stroke="#52bcd0" stroke-width="1.4" />
<line x1="180.8" y1="409.6" x2="187.1" y2="409.6" stroke="#d2568a" stroke-width="1.4" />
<text x="190.3" y="405.4" font-size="6.7" text-anchor="start" font-weight="normal" fill="#2a2a2a" stroke="#2a2a2a" stroke-width="0.16" textLength="55.92" lengthAdjust="spacingAndGlyphs">Interim PET negative</text>
<text x="190.3" y="412.3" font-size="6.7" text-anchor="start" font-weight="normal" fill="#2a2a2a" stroke="#2a2a2a" stroke-width="0.16" textLength="53.58" lengthAdjust="spacingAndGlyphs">Interim PET positive</text>
<text x="216.19" y="429.4" font-size="6.7" text-anchor="start" font-weight="normal" fill="#2a2a2a" stroke="#2a2a2a" stroke-width="0.16" textLength="31.71" lengthAdjust="spacingAndGlyphs">+ Censored</text>
<text x="25" y="539.4" font-size="6.9" text-anchor="start" font-weight="normal" fill="#2a2a2a" stroke="#2a2a2a" stroke-width="0.16" textLength="27.46" lengthAdjust="spacingAndGlyphs">No. at risk</text>
<text x="22.5" y="550.5" font-size="6.4" text-anchor="middle" font-weight="normal" fill="#2a2a2a" stroke="#2a2a2a" stroke-width="0.16" >1</text>
<text x="22.5" y="560.2" font-size="6.4" text-anchor="middle" font-weight="normal" fill="#2a2a2a" stroke="#2a2a2a" stroke-width="0.16" >2</text>
<text x="39.3" y="550.5" font-size="6.5" text-anchor="end" font-weight="normal" fill="#2a2a2a" stroke="#2a2a2a" stroke-width="0.16" >20</text>
<text x="71.3" y="550.5" font-size="6.5" text-anchor="end" font-weight="normal" fill="#2a2a2a" stroke="#2a2a2a" stroke-width="0.16" >13</text>
<text x="106.3" y="550.5" font-size="6.5" text-anchor="end" font-weight="normal" fill="#2a2a2a" stroke="#2a2a2a" stroke-width="0.16" >13</text>
<text x="140.7" y="550.5" font-size="6.5" text-anchor="end" font-weight="normal" fill="#2a2a2a" stroke="#2a2a2a" stroke-width="0.16" >11</text>
<text x="175.6" y="550.5" font-size="6.5" text-anchor="end" font-weight="normal" fill="#2a2a2a" stroke="#2a2a2a" stroke-width="0.16" >11</text>
<text x="204.5" y="550.5" font-size="6.5" text-anchor="end" font-weight="normal" fill="#2a2a2a" stroke="#2a2a2a" stroke-width="0.16" >3</text>
<text x="39.3" y="560.2" font-size="6.5" text-anchor="end" font-weight="normal" fill="#2a2a2a" stroke="#2a2a2a" stroke-width="0.16" >1</text>
<text x="71.3" y="560.2" font-size="6.5" text-anchor="end" font-weight="normal" fill="#2a2a2a" stroke="#2a2a2a" stroke-width="0.16" >1</text>
<text x="106.3" y="560.2" font-size="6.5" text-anchor="end" font-weight="normal" fill="#2a2a2a" stroke="#2a2a2a" stroke-width="0.16" >1</text>
<text x="140.7" y="560.2" font-size="6.5" text-anchor="end" font-weight="normal" fill="#2a2a2a" stroke="#2a2a2a" stroke-width="0.16" >1</text>
<text x="175.6" y="560.2" font-size="6.5" text-anchor="end" font-weight="normal" fill="#2a2a2a" stroke="#2a2a2a" stroke-width="0.16" >1</text>
<polyline points="34.6,388 188.1,388" fill="none" stroke="#d87aa2" stroke-width="2.3" stroke-linejoin="round" />
<polyline points="34.6,388.1 35.4,388.1 35.4,399.2 37.4,399.2 37.4,405.5 56.5,405.5 56.5,411.3 64.7,411.3 64.7,417.3 224,417.3" fill="none" stroke="#2fa3d2" stroke-width="1.25" stroke-linejoin="round" />
<path d="M90 416.1v2.4 M120 416.1v2.4 M150 416.1v2.4 M180 416.1v2.4 M210 416.1v2.4" stroke="#1f7aa0" stroke-width="0.8" fill="none"/>
<line x1="34.3" y1="385.3" x2="34.3" y2="507.7" stroke="#1a1a1a" stroke-width="1.2" />
<line x1="31.3" y1="505.1" x2="250.8" y2="505.1" stroke="#1a1a1a" stroke-width="1.2" />
<line x1="31.3" y1="505.1" x2="34.3" y2="505.1" stroke="#1a1a1a" stroke-width="1.0" />
<text x="28.3" y="507.8" font-size="6.3" text-anchor="end" font-weight="normal" fill="#2a2a2a" stroke="#2a2a2a" stroke-width="0.16" >0.0</text>
<line x1="31.3" y1="481.7" x2="34.3" y2="481.7" stroke="#1a1a1a" stroke-width="1.0" />
<text x="28.3" y="484.4" font-size="6.3" text-anchor="end" font-weight="normal" fill="#2a2a2a" stroke="#2a2a2a" stroke-width="0.16" >0.2</text>
<line x1="31.3" y1="458.3" x2="34.3" y2="458.3" stroke="#1a1a1a" stroke-width="1.0" />
<text x="28.3" y="461" font-size="6.3" text-anchor="end" font-weight="normal" fill="#2a2a2a" stroke="#2a2a2a" stroke-width="0.16" >0.4</text>
<line x1="31.3" y1="434.9" x2="34.3" y2="434.9" stroke="#1a1a1a" stroke-width="1.0" />
<text x="28.3" y="437.6" font-size="6.3" text-anchor="end" font-weight="normal" fill="#2a2a2a" stroke="#2a2a2a" stroke-width="0.16" >0.6</text>
<line x1="31.3" y1="411.5" x2="34.3" y2="411.5" stroke="#1a1a1a" stroke-width="1.0" />
<text x="28.3" y="414.2" font-size="6.3" text-anchor="end" font-weight="normal" fill="#2a2a2a" stroke="#2a2a2a" stroke-width="0.16" >0.8</text>
<line x1="31.3" y1="388.1" x2="34.3" y2="388.1" stroke="#1a1a1a" stroke-width="1.0" />
<text x="28.3" y="390.8" font-size="6.3" text-anchor="end" font-weight="normal" fill="#2a2a2a" stroke="#2a2a2a" stroke-width="0.16" >1.0</text>
<line x1="32.7" y1="493.4" x2="34.3" y2="493.4" stroke="#1a1a1a" stroke-width="0.9" />
<line x1="32.7" y1="470" x2="34.3" y2="470" stroke="#1a1a1a" stroke-width="0.9" />
<line x1="32.7" y1="446.6" x2="34.3" y2="446.6" stroke="#1a1a1a" stroke-width="0.9" />
<line x1="32.7" y1="423.2" x2="34.3" y2="423.2" stroke="#1a1a1a" stroke-width="0.9" />
<line x1="32.7" y1="399.8" x2="34.3" y2="399.8" stroke="#1a1a1a" stroke-width="0.9" />
<line x1="34.3" y1="505.1" x2="34.3" y2="507.7" stroke="#1a1a1a" stroke-width="1.0" />
<text x="34.6" y="514.5" font-size="6.2" text-anchor="middle" font-weight="normal" fill="#2a2a2a" stroke="#2a2a2a" stroke-width="0.16" >0</text>
<line x1="102" y1="505.1" x2="102" y2="507.7" stroke="#1a1a1a" stroke-width="1.0" />
<text x="102.3" y="514.5" font-size="6.2" text-anchor="middle" font-weight="normal" fill="#2a2a2a" stroke="#2a2a2a" stroke-width="0.16" >5</text>
<line x1="169.7" y1="505.1" x2="169.7" y2="507.7" stroke="#1a1a1a" stroke-width="1.0" />
<text x="170" y="514.5" font-size="6.2" text-anchor="middle" font-weight="normal" fill="#2a2a2a" stroke="#2a2a2a" stroke-width="0.16" >10</text>
<line x1="237.4" y1="505.1" x2="237.4" y2="507.7" stroke="#1a1a1a" stroke-width="1.0" />
<text x="237.7" y="514.5" font-size="6.2" text-anchor="middle" font-weight="normal" fill="#2a2a2a" stroke="#2a2a2a" stroke-width="0.16" >15</text>
<line x1="68.15" y1="505.1" x2="68.15" y2="506.7" stroke="#1a1a1a" stroke-width="0.9" />
<line x1="135.85" y1="505.1" x2="135.85" y2="506.7" stroke="#1a1a1a" stroke-width="0.9" />
<line x1="203.55" y1="505.1" x2="203.55" y2="506.7" stroke="#1a1a1a" stroke-width="0.9" />
<line x1="296.3" y1="417.35" x2="513.8" y2="417.35" stroke="#6e6e6e" stroke-width="1.3" stroke-dasharray="2.6 2.8"/>
<line x1="296.3" y1="475.85" x2="513.8" y2="475.85" stroke="#6e6e6e" stroke-width="1.3" stroke-dasharray="2.6 2.8"/>
<line x1="296.3" y1="446.5" x2="512.8" y2="446.5" stroke="#707070" stroke-width="1.0" />
<text transform="translate(275.6,445.1) rotate(-90) scale(0.76,1)" font-size="7.7" text-anchor="middle" fill="#2a2a2a" stroke="#2a2a2a" stroke-width="0.24">Probability</text>
<text transform="translate(344.7,528.9) scale(0.7,1)" font-size="8.3" fill="#2a2a2a" stroke="#2a2a2a" stroke-width="0.26" textLength="167.86" lengthAdjust="spacing">Time to progression from interim PET (years)</text>
<text x="300.65" y="500.7" font-size="6.3" text-anchor="start" font-weight="normal" fill="#2a2a2a" stroke="#2a2a2a" stroke-width="0.16" textLength="102.9" lengthAdjust="spacingAndGlyphs">HR, 3.647 (1.764 to 7.540); <tspan font-style="italic">P</tspan> &lt; .001</text>
<text x="435.35" y="500.7" font-size="6.3" text-anchor="start" font-weight="normal" fill="#2a2a2a" stroke="#2a2a2a" stroke-width="0.16" textLength="70.1" lengthAdjust="spacingAndGlyphs">NPV, 54.1%; PPV, 77.8%</text>
<text x="437.4" y="392.8" font-size="6.7" text-anchor="start" font-weight="normal" fill="#2a2a2a" stroke="#2a2a2a" stroke-width="0.16" textLength="30.85" lengthAdjust="spacingAndGlyphs">ALK- PTCL</text>
<text x="437.9" y="400.8" font-size="6.7" text-anchor="start" font-weight="normal" fill="#2a2a2a" stroke="#2a2a2a" stroke-width="0.16" textLength="3.39" lengthAdjust="spacingAndGlyphs">1</text>
<text x="437.9" y="408.5" font-size="6.7" text-anchor="start" font-weight="normal" fill="#2a2a2a" stroke="#2a2a2a" stroke-width="0.16" textLength="3.39" lengthAdjust="spacingAndGlyphs">2</text>
<line x1="443.2" y1="398" x2="449.5" y2="398" stroke="#52bcd0" stroke-width="1.4" />
<line x1="443.2" y1="405.8" x2="449.5" y2="405.8" stroke="#d2568a" stroke-width="1.4" />
<text x="452.7" y="400.8" font-size="6.7" text-anchor="start" font-weight="normal" fill="#2a2a2a" stroke="#2a2a2a" stroke-width="0.16" textLength="55.92" lengthAdjust="spacingAndGlyphs">Interim PET negative</text>
<text x="452.7" y="408.5" font-size="6.7" text-anchor="start" font-weight="normal" fill="#2a2a2a" stroke="#2a2a2a" stroke-width="0.16" textLength="53.58" lengthAdjust="spacingAndGlyphs">Interim PET positive</text>
<text x="477.99" y="429" font-size="6.7" text-anchor="start" font-weight="normal" fill="#2a2a2a" stroke="#2a2a2a" stroke-width="0.16" textLength="31.71" lengthAdjust="spacingAndGlyphs">+ Censored</text>
<text x="287" y="539.4" font-size="6.9" text-anchor="start" font-weight="normal" fill="#2a2a2a" stroke="#2a2a2a" stroke-width="0.16" textLength="27.46" lengthAdjust="spacingAndGlyphs">No. at risk</text>
<text x="284.5" y="550.5" font-size="6.4" text-anchor="middle" font-weight="normal" fill="#2a2a2a" stroke="#2a2a2a" stroke-width="0.16" >1</text>
<text x="284.5" y="560.2" font-size="6.4" text-anchor="middle" font-weight="normal" fill="#2a2a2a" stroke="#2a2a2a" stroke-width="0.16" >2</text>
<text x="300.8" y="550.5" font-size="6.5" text-anchor="end" font-weight="normal" fill="#2a2a2a" stroke="#2a2a2a" stroke-width="0.16" >37</text>
<text x="333.3" y="550.5" font-size="6.5" text-anchor="end" font-weight="normal" fill="#2a2a2a" stroke="#2a2a2a" stroke-width="0.16" >19</text>
<text x="367.8" y="550.5" font-size="6.5" text-anchor="end" font-weight="normal" fill="#2a2a2a" stroke="#2a2a2a" stroke-width="0.16" >15</text>
<text x="399.1" y="550.5" font-size="6.5" text-anchor="end" font-weight="normal" fill="#2a2a2a" stroke="#2a2a2a" stroke-width="0.16" >9</text>
<text x="434" y="550.5" font-size="6.5" text-anchor="end" font-weight="normal" fill="#2a2a2a" stroke="#2a2a2a" stroke-width="0.16" >6</text>
<text x="300.8" y="560.2" font-size="6.5" text-anchor="end" font-weight="normal" fill="#2a2a2a" stroke="#2a2a2a" stroke-width="0.16" >18</text>
<text x="333.3" y="560.2" font-size="6.5" text-anchor="end" font-weight="normal" fill="#2a2a2a" stroke="#2a2a2a" stroke-width="0.16" >1</text>
<text x="367.8" y="560.2" font-size="6.5" text-anchor="end" font-weight="normal" fill="#2a2a2a" stroke="#2a2a2a" stroke-width="0.16" >1</text>
<text x="399.1" y="560.2" font-size="6.5" text-anchor="end" font-weight="normal" fill="#2a2a2a" stroke="#2a2a2a" stroke-width="0.16" >1</text>
<polyline points="296.5,391.1 299.7,391.1 299.7,397.7 301.3,397.7 301.3,401.5 302.5,401.5 302.5,406 303.9,406 303.9,410.4 305.3,410.4 305.3,414 306.6,414 306.6,417.8 309.7,417.8 309.7,424.6 311,424.6 311,428.5 312.4,428.5 312.4,432 317.7,432 317.7,435.5 325.6,435.5 325.6,439.1 364,439.1 364,443.2 408.1,443.2 408.1,449.7 457.7,449.7" fill="none" stroke="#2fa3d2" stroke-width="1.25" stroke-linejoin="round" />
<path d="M340 437.9v2.4 M350 437.9v2.4 M380 442v2.4 M390 442v2.4 M420 448.5v2.4 M440 448.5v2.4 M450 448.5v2.4" stroke="#1f7aa0" stroke-width="0.8" fill="none"/>
<polyline points="296.5,388.5 296.5,405 297.5,409 298.3,415 299.2,421 300.2,425 300.8,428.3 301.2,440 301.2,458.8 304,458.8 304,474.6 316.5,474.6 316.5,482 327.6,482 327.6,489.7 428.2,489.7" fill="none" stroke="#c92f77" stroke-width="1.3" stroke-linejoin="round" />
<path d="M350 488.5v2.4 M380 488.5v2.4 M410 488.5v2.4" stroke="#8a1f50" stroke-width="0.8" fill="none"/>
<line x1="296.3" y1="385.3" x2="296.3" y2="507.7" stroke="#1a1a1a" stroke-width="1.2" />
<line x1="293.3" y1="505.1" x2="512.8" y2="505.1" stroke="#1a1a1a" stroke-width="1.2" />
<line x1="293.3" y1="505.1" x2="296.3" y2="505.1" stroke="#1a1a1a" stroke-width="1.0" />
<text x="290.3" y="507.8" font-size="6.3" text-anchor="end" font-weight="normal" fill="#2a2a2a" stroke="#2a2a2a" stroke-width="0.16" >0.0</text>
<line x1="293.3" y1="481.7" x2="296.3" y2="481.7" stroke="#1a1a1a" stroke-width="1.0" />
<text x="290.3" y="484.4" font-size="6.3" text-anchor="end" font-weight="normal" fill="#2a2a2a" stroke="#2a2a2a" stroke-width="0.16" >0.2</text>
<line x1="293.3" y1="458.3" x2="296.3" y2="458.3" stroke="#1a1a1a" stroke-width="1.0" />
<text x="290.3" y="461" font-size="6.3" text-anchor="end" font-weight="normal" fill="#2a2a2a" stroke="#2a2a2a" stroke-width="0.16" >0.4</text>
<line x1="293.3" y1="434.9" x2="296.3" y2="434.9" stroke="#1a1a1a" stroke-width="1.0" />
<text x="290.3" y="437.6" font-size="6.3" text-anchor="end" font-weight="normal" fill="#2a2a2a" stroke="#2a2a2a" stroke-width="0.16" >0.6</text>
<line x1="293.3" y1="411.5" x2="296.3" y2="411.5" stroke="#1a1a1a" stroke-width="1.0" />
<text x="290.3" y="414.2" font-size="6.3" text-anchor="end" font-weight="normal" fill="#2a2a2a" stroke="#2a2a2a" stroke-width="0.16" >0.8</text>
<line x1="293.3" y1="388.1" x2="296.3" y2="388.1" stroke="#1a1a1a" stroke-width="1.0" />
<text x="290.3" y="390.8" font-size="6.3" text-anchor="end" font-weight="normal" fill="#2a2a2a" stroke="#2a2a2a" stroke-width="0.16" >1.0</text>
<line x1="294.7" y1="493.4" x2="296.3" y2="493.4" stroke="#1a1a1a" stroke-width="0.9" />
<line x1="294.7" y1="470" x2="296.3" y2="470" stroke="#1a1a1a" stroke-width="0.9" />
<line x1="294.7" y1="446.6" x2="296.3" y2="446.6" stroke="#1a1a1a" stroke-width="0.9" />
<line x1="294.7" y1="423.2" x2="296.3" y2="423.2" stroke="#1a1a1a" stroke-width="0.9" />
<line x1="294.7" y1="399.8" x2="296.3" y2="399.8" stroke="#1a1a1a" stroke-width="0.9" />
<line x1="296.3" y1="505.1" x2="296.3" y2="507.7" stroke="#1a1a1a" stroke-width="1.0" />
<text x="296.6" y="514.5" font-size="6.2" text-anchor="middle" font-weight="normal" fill="#2a2a2a" stroke="#2a2a2a" stroke-width="0.16" >0</text>
<line x1="364" y1="505.1" x2="364" y2="507.7" stroke="#1a1a1a" stroke-width="1.0" />
<text x="364.3" y="514.5" font-size="6.2" text-anchor="middle" font-weight="normal" fill="#2a2a2a" stroke="#2a2a2a" stroke-width="0.16" >5</text>
<line x1="431.7" y1="505.1" x2="431.7" y2="507.7" stroke="#1a1a1a" stroke-width="1.0" />
<text x="432" y="514.5" font-size="6.2" text-anchor="middle" font-weight="normal" fill="#2a2a2a" stroke="#2a2a2a" stroke-width="0.16" >10</text>
<line x1="499.4" y1="505.1" x2="499.4" y2="507.7" stroke="#1a1a1a" stroke-width="1.0" />
<text x="499.7" y="514.5" font-size="6.2" text-anchor="middle" font-weight="normal" fill="#2a2a2a" stroke="#2a2a2a" stroke-width="0.16" >15</text>
<line x1="330.15" y1="505.1" x2="330.15" y2="506.7" stroke="#1a1a1a" stroke-width="0.9" />
<line x1="397.85" y1="505.1" x2="397.85" y2="506.7" stroke="#1a1a1a" stroke-width="0.9" />
<line x1="465.55" y1="505.1" x2="465.55" y2="506.7" stroke="#1a1a1a" stroke-width="0.9" />
</svg>
<div class="frame"></div>
</body></html>
